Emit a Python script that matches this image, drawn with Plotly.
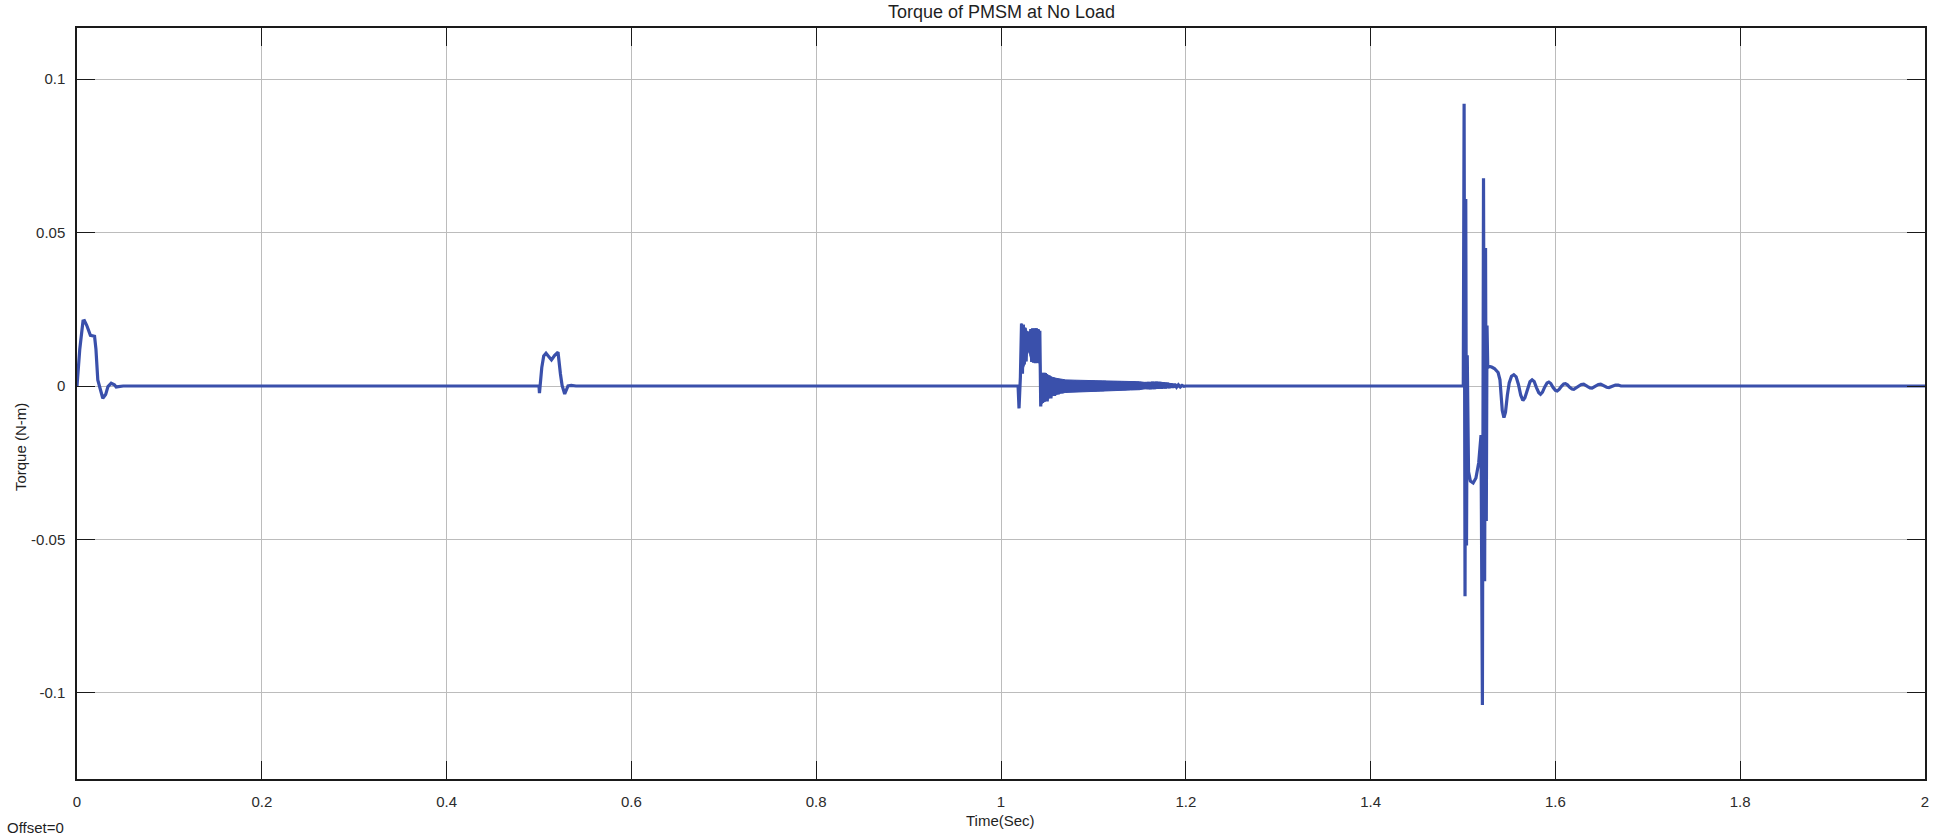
import plotly.graph_objects as go

# ---------------- data ----------------
# start-up transient
t_start = [0.0, 0.003, 0.0065, 0.008, 0.0105, 0.013, 0.0145, 0.019, 0.0205, 0.0225,
           0.025, 0.0279, 0.031, 0.0335, 0.037, 0.0405, 0.0424, 0.05]
y_start = [0.0, 0.012, 0.0212, 0.0213, 0.0198, 0.0172, 0.0165, 0.0162, 0.012, 0.002,
           -0.0013, -0.0040, -0.0028, -0.0002, 0.0009, 0.0004, -0.0003, 0.0]

# bump near 0.5 s
t_b05 = [0.5, 0.5005, 0.503, 0.5051, 0.5076, 0.5105, 0.5135, 0.517, 0.5206, 0.5232,
         0.525, 0.5278, 0.5314, 0.535, 0.54]
y_b05 = [0.0, -0.0023, 0.006, 0.0098, 0.0107, 0.0095, 0.0085, 0.0100, 0.0110, 0.0039,
         0.0002, -0.0026, 0.0, 0.0002, 0.0]

# disturbance near 1.02 s (square hump with fast ripple)
t_b10 = [1.0185, 1.0195, 1.0210, 1.0222, 1.0232, 1.0242, 1.0252, 1.0262, 1.0272, 1.0282,
         1.0292, 1.0302, 1.0312, 1.0322, 1.0332, 1.0342, 1.0352, 1.0362, 1.0372, 1.0382,
         1.0392, 1.0402, 1.0412, 1.0420, 1.0430, 1.0440, 1.0448, 1.0456, 1.0464, 1.0472]
y_b10 = [0.0, -0.0073, 0.0030, 0.0204, 0.0040, 0.0200, 0.0070, 0.0190, 0.0080, 0.0178,
         0.0120, 0.0176, 0.0110, 0.0186, 0.0078, 0.0188, 0.0076, 0.0187, 0.0074, 0.0188,
         0.0076, 0.0185, 0.0074, 0.0180, -0.0067, 0.0030, -0.0055, 0.0042, -0.0052, 0.0038]

# decaying fast oscillation 1.048 - 1.2 s
t_band = [1.048, 1.050, 1.052, 1.054, 1.056, 1.058, 1.060, 1.062, 1.064, 1.066,
          1.068, 1.070, 1.072, 1.074, 1.076, 1.078, 1.080, 1.082, 1.084, 1.086,
          1.088, 1.090, 1.092, 1.094, 1.096, 1.098, 1.100, 1.102, 1.104, 1.106,
          1.108, 1.110, 1.112, 1.114, 1.116, 1.118, 1.120, 1.122, 1.124, 1.126,
          1.128, 1.130, 1.132, 1.134, 1.136, 1.138, 1.140, 1.142, 1.144, 1.146,
          1.148, 1.150, 1.152, 1.154, 1.156, 1.158, 1.160, 1.162, 1.164, 1.166,
          1.168, 1.170, 1.172, 1.174, 1.176, 1.178, 1.180, 1.182, 1.184, 1.186,
          1.188, 1.190, 1.192, 1.194, 1.196, 1.198, 1.200]
y_band = [0.0042, -0.0050, 0.0034, -0.0040, 0.0028, -0.0032, 0.0025, -0.0027, 0.0022, -0.0024,
          0.0020, -0.0021, 0.0019, -0.0019, 0.0018, -0.0019, 0.0018, -0.0018, 0.0017, -0.0018,
          0.0017, -0.0018, 0.0017, -0.0017, 0.0017, -0.0017, 0.0017, -0.0017, 0.0016, -0.0016,
          0.0016, -0.0016, 0.0016, -0.0015, 0.0015, -0.0014, 0.0015, -0.0014, 0.0015, -0.0013,
          0.0015, -0.0013, 0.0014, -0.0013, 0.0014, -0.0012, 0.0014, -0.0012, 0.0014, -0.0012,
          0.0013, -0.0011, 0.0012, -0.0009, 0.0011, -0.0008, 0.0012, -0.0009, 0.0013, -0.0009,
          0.0013, -0.0008, 0.0012, -0.0008, 0.0011, -0.0007, 0.0010, -0.0006, 0.0008, -0.0005,
          0.0006, -0.0004, 0.0004, -0.0003, 0.0002, -0.0001, 0.0]

# envelope of the dense ripple (the band looks solid in the reference)
t_env = [1.0215, 1.0225, 1.0250, 1.0270, 1.0290, 1.0310, 1.0330, 1.0380, 1.0415, 1.0422,
         1.0430, 1.0445, 1.0480, 1.0520, 1.0560, 1.0600, 1.0650, 1.0700, 1.0800, 1.1000,
         1.1100, 1.1200, 1.1400, 1.1500, 1.1550, 1.1600, 1.1700, 1.1800, 1.1900, 1.1980]
env_upper = [0.0202, 0.0202, 0.0195, 0.0184, 0.0175, 0.0177, 0.0185, 0.0187, 0.0183, 0.0176,
             0.0042, 0.0042, 0.0042, 0.0034, 0.0028, 0.0025, 0.0022, 0.0020, 0.0019, 0.0018,
             0.0017, 0.0016, 0.0015, 0.0014, 0.0012, 0.0013, 0.0013, 0.0010, 0.0006, 0.0001]
env_lower = [0.0035, 0.0045, 0.0065, 0.0082, 0.0118, 0.0102, 0.0080, 0.0077, 0.0076, 0.0060,
             -0.0057, -0.0057, -0.0050, -0.0040, -0.0031, -0.0027, -0.0023, -0.0021, -0.0019, -0.0018,
             -0.0017, -0.0015, -0.0013, -0.0012, -0.0009, -0.0010, -0.0009, -0.0006, -0.0004, 0.0000]

# large disturbance near 1.5 s and its damped ringing
t_b15 = [1.5003, 1.5012, 1.5022, 1.5030, 1.5038, 1.5046, 1.5060, 1.5080, 1.5110, 1.5140,
         1.5170, 1.5195, 1.5210, 1.5222, 1.5234, 1.5244, 1.5252, 1.5260, 1.5268, 1.5280,
         1.5310, 1.5340, 1.5380, 1.5400, 1.5415, 1.5425, 1.5443, 1.5460, 1.5480, 1.5500,
         1.5525, 1.5550, 1.5575, 1.5600, 1.5625, 1.5648, 1.5670, 1.5700, 1.5725, 1.5748,
         1.5770, 1.5795, 1.5820, 1.5839, 1.5860, 1.5885, 1.5910, 1.5929, 1.5950, 1.5975,
         1.6000, 1.6019, 1.6040, 1.6065, 1.6090, 1.6108, 1.6130, 1.6155, 1.6180, 1.6199,
         1.6220, 1.6250, 1.6280, 1.6306, 1.6330, 1.6350, 1.6375, 1.6397, 1.6420, 1.6440,
         1.6465, 1.6490, 1.6510, 1.6530, 1.6555, 1.6580, 1.6600, 1.6620, 1.6650, 1.6680,
         1.6710, 1.7000, 2.0]
y_b15 = [0.0, 0.0920, -0.0685, 0.0610, -0.0520, 0.0100, -0.0280, -0.0310, -0.0316, -0.0300,
         -0.0250, -0.0160, -0.1040, 0.0677, -0.0636, 0.0450, -0.0440, 0.0197, 0.0060, 0.0064,
         0.0062, 0.0057, 0.0044, 0.0020, -0.0040, -0.0080, -0.0103, -0.0085, -0.0030, 0.0010,
         0.0032, 0.0037, 0.0030, 0.0005, -0.0030, -0.0047, -0.0038, -0.0008, 0.0014, 0.0020,
         0.0015, -0.0005, -0.0022, -0.0027, -0.0020, -0.0003, 0.0010, 0.0013, 0.0008, -0.0005,
         -0.0014, -0.0016, -0.0011, -0.0001, 0.0007, 0.0008, 0.0004, -0.0004, -0.0010, -0.0011,
         -0.0007, 0.0000, 0.0005, 0.0006, 0.0003, -0.0002, -0.0006, -0.0007, -0.0003, 0.0002,
         0.0005, 0.0006, 0.0002, -0.0002, -0.0004, -0.0005, -0.0002, 0.0001, 0.0003, 0.0003,
         0.0, 0.0, 0.0]

time = t_start + t_b05 + t_b10 + t_band + t_b15
torque = y_start + y_b05 + y_b10 + y_band + y_b15

x_ticks = [0, 0.2, 0.4, 0.6, 0.8, 1.0, 1.2, 1.4, 1.6, 1.8, 2.0]
x_tick_text = ["0", "0.2", "0.4", "0.6", "0.8", "1", "1.2", "1.4", "1.6", "1.8", "2"]
y_ticks = [-0.1, -0.05, 0, 0.05, 0.1]
y_tick_text = ["-0.1", "-0.05", "0", "0.05", "0.1"]

# ---------------- figure ----------------
W_FIG, H_FIG = 1938, 838
ML, MR, MT, MB = 77, 9, 28, 59
PW = W_FIG - ML - MR
PH = H_FIG - MT - MB


def px(x):
    return (x - ML) / PW


def py(y):
    return (H_FIG - MB - y) / PH


FONT = "Liberation Sans, Arial, sans-serif"
LINE_COLOR = "#3a50ab"
GRID = "#bcbcbc"

fig = go.Figure()
# solid envelope of the dense ripple
fig.add_trace(go.Scatter(x=t_env + t_env[::-1], y=env_upper + env_lower[::-1],
                         mode="lines", fill="toself", fillcolor=LINE_COLOR,
                         line=dict(color=LINE_COLOR, width=1), showlegend=False,
                         hoverinfo="skip"))
fig.add_trace(go.Scatter(x=time, y=torque, mode="lines",
                         line=dict(color=LINE_COLOR, width=3.2), showlegend=False,
                         hoverinfo="skip"))

axis_common = dict(showline=True, linecolor="#1a1a1a", linewidth=1.5, mirror="allticks",
                   ticks="inside", ticklen=18, tickwidth=1.2, tickcolor="#1a1a1a",
                   showgrid=True, gridcolor=GRID, gridwidth=1, zeroline=False,
                   tickfont=dict(family=FONT, size=15, color="#2b2b2b"))

fig.update_xaxes(range=[0, 2], tickvals=x_ticks, ticktext=x_tick_text,
                 ticklabelstandoff=8, **axis_common)
fig.update_yaxes(range=[-0.1281, 0.1167], tickvals=y_ticks, ticktext=y_tick_text,
                 ticklabelstandoff=7, **axis_common)

ann = [
    dict(text="Torque of PMSM at No Load", x=px(1003), y=py(12), size=18),
    dict(text="Time(Sec)", x=px(1002), y=py(820), size=15),
]
annotations = []
for a in ann:
    annotations.append(dict(text=a["text"], x=a["x"], y=a["y"], xref="paper", yref="paper",
                            xanchor="center", yanchor="middle", showarrow=False,
                            font=dict(family=FONT, size=a["size"], color="#1f1f1f")))
annotations.append(dict(text="Offset=0", x=px(5), y=py(827), xref="paper", yref="paper",
                        xanchor="left", yanchor="middle", showarrow=False,
                        font=dict(family=FONT, size=15, color="#1f1f1f")))
annotations.append(dict(text="Torque (N-m)", x=px(20), y=py(447), xref="paper", yref="paper",
                        xanchor="center", yanchor="middle", showarrow=False, textangle=-90,
                        font=dict(family=FONT, size=15, color="#1f1f1f")))

fig.update_layout(width=W_FIG, height=H_FIG, autosize=False,
                  margin=dict(l=ML, r=MR, t=MT, b=MB, pad=0),
                  paper_bgcolor="white", plot_bgcolor="white",
                  annotations=annotations, showlegend=False)

fig.write_html("out.html", config={"displayModeBar": False},
               post_script="document.body.style.margin='0';document.body.style.overflow='hidden';")
